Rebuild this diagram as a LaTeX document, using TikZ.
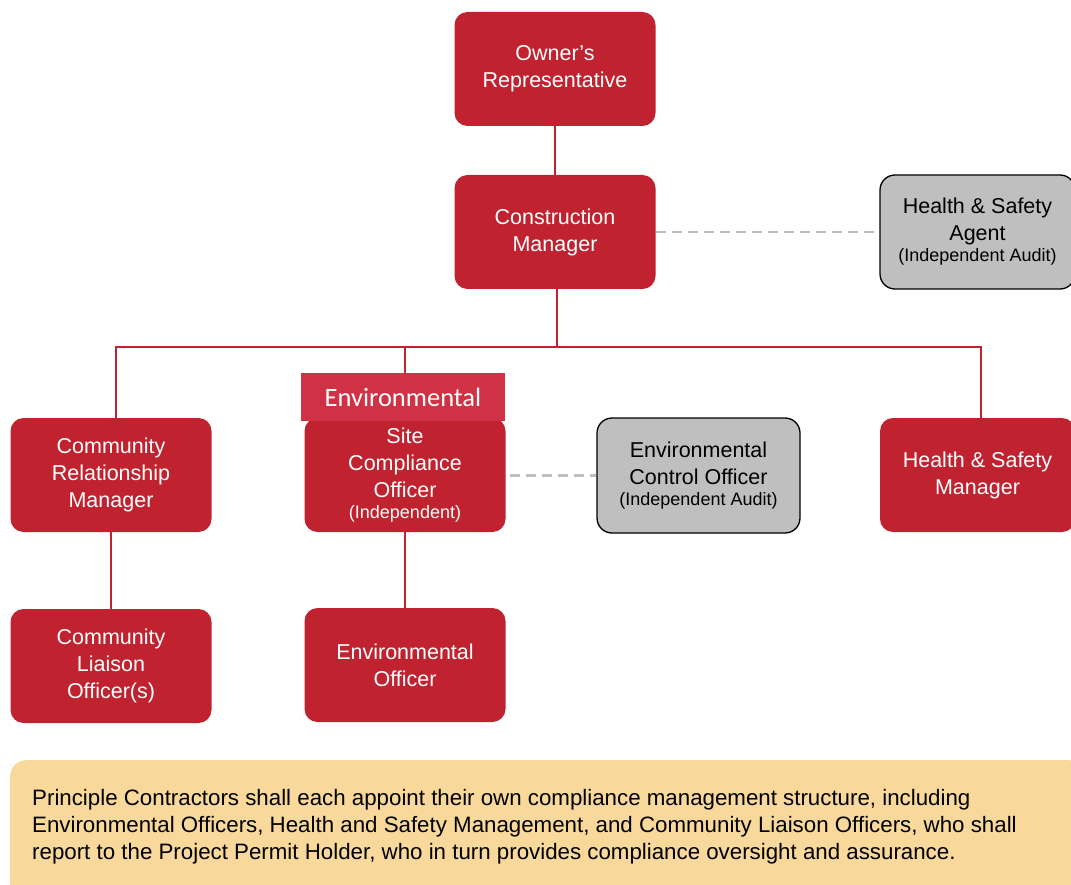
\documentclass[tikz,border=0pt]{standalone}
\usepackage{fontspec}
\setmainfont{Liberation Sans}
\newfontfamily\tabfont{Carlito}
\definecolor{boxred}{HTML}{C0232F}
\definecolor{tabred}{HTML}{D13144}
\definecolor{agentgray}{HTML}{BFBFBF}
\definecolor{dashgray}{HTML}{BFBFBF}
\definecolor{notefill}{HTML}{F8D99B}
\begin{document}
\begin{tikzpicture}[x=1pt,y=-1pt,
  redbox/.style={draw=none,fill=boxred,rounded corners=13pt,text=white,align=center,
    minimum width=201pt,minimum height=114pt,inner sep=2pt,
    font=\fontsize{21.5}{27}\selectfont},
  graybox/.style={draw=black,line width=1.3pt,fill=agentgray,rounded corners=15pt,text=black,align=center,
    minimum width=201pt,minimum height=114pt,inner sep=2pt,
    font=\fontsize{21.5}{27}\selectfont},
  link/.style={draw=boxred,line width=2.8pt},
  dashlink/.style={draw=dashgray,line width=2.2pt,dash pattern=on 10pt off 6pt}]
\newcommand\smalltxt[1]{{\fontsize{18}{22}\selectfont #1}}
\useasboundingbox (0,0) rectangle (1071,885);
% note box
\node[draw=none,fill=notefill,rounded corners=16pt,minimum width=1075pt,minimum height=140pt,anchor=north west,inner sep=0pt] (note) at (10,760) {};
\node[anchor=north west,align=left,font=\fontsize{22.3}{27}\selectfont,inner sep=0pt] (notetext) at (32,789)
 {Principle Contractors shall each appoint their own compliance management structure, including\\
  Environmental Officers, Health and Safety Management, and Community Liaison Officers, who shall\\
  report to the Project Permit Holder, who in turn provides compliance oversight and assurance.};
% boxes
\node[redbox] (owner) at (555,69) {Owner’s\\Representative};
\node[redbox] (cm) at (555,232) {Construction\\Manager};
\node[graybox,minimum width=195pt] (agent) at (977.5,232) {Health \& Safety\\Agent\\[-6pt]\smalltxt{(Independent Audit)}};
\node[redbox] (crm) at (111,475) {Community\\Relationship\\Manager};
\node[redbox] (sco) at (405,475) {Site\\Compliance\\Officer\\[-6pt]\smalltxt{(Independent)}};
\node[draw=none,fill=tabred,minimum width=204pt,minimum height=48pt,inner sep=0pt,text=white,font=\tabfont\fontsize{26.5}{27}\selectfont] (tab) at (403,397) {Environmental};
\node[graybox,minimum width=203pt,minimum height=115pt] (eco) at (698.5,475.5) {Environmental\\Control Officer\\[-6pt]\smalltxt{(Independent Audit)}};
\node[redbox,minimum width=195pt] (hsm) at (977.5,475) {Health \& Safety\\Manager};
\node[redbox] (clo) at (111,666) {Community\\Liaison\\Officer(s)};
\node[redbox] (eo) at (405,665) {Environmental\\Officer};
% connectors
\coordinate (bus) at (557,347);
\draw[link] (owner.south) -- (cm.north);
\draw[link] (cm.south -| bus) -- (bus);
\draw[link] (crm.north -| 116,0) |- (bus);
\draw[link] (hsm.north -| 981,0) |- (bus);
\draw[link] (tab.north -| 405,0) -- (405,347);
\draw[link] (crm.south) -- (clo.north);
\draw[link] (sco.south) -- (eo.north);
\draw[dashlink] (cm.east) -- (agent.west);
\draw[dashlink] (510,475.5) -- (eco.west);
\end{tikzpicture}
\end{document}
